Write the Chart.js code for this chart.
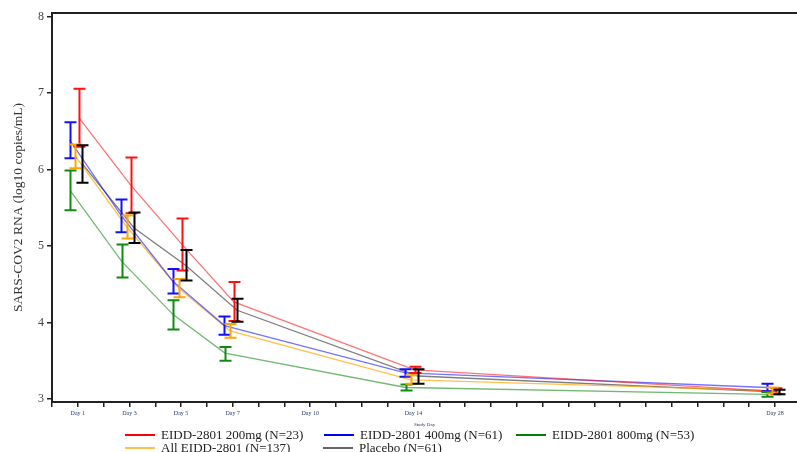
<!DOCTYPE html>
<html>
<head>
<meta charset="utf-8">
<script src="https://cdn.jsdelivr.net/npm/chart.js@4"></script>
<style>
  body { margin: 0; background: #fff; }
  #wrap { position: relative; width: 797px; height: 452px; }
  #legend { position: absolute; left: 0; top: 0; width: 797px; height: 452px; pointer-events: none;
            font-family: "Liberation Serif", serif; font-size: 13px; color: #222; }
  .item { position: absolute; white-space: nowrap; line-height: 13px; }
  .item span.ln { position: absolute; top: 6px; height: 2px; width: 30px; }
  .item span.tx { position: absolute; left: 36px; top: 0; }
</style>
</head>
<body>
<div id="wrap">
  <canvas id="chart" width="797" height="452"></canvas>
  <div id="legend"></div>
</div>
<script>
// days measured (x) and the labelled ticks
const days = [1, 3, 5, 7, 14, 28];
const labelledDays = [1, 3, 5, 7, 10, 14, 28];
const yTicks = [3, 4, 5, 6, 7, 8];

const seriesNames = [
    'EIDD-2801 200mg (N=23)',
    'EIDD-2801 400mg (N=61)',
    'EIDD-2801 800mg (N=53)',
    'All EIDD-2801 (N=137)',
    'Placebo (N=61)'
];

// mean log10 copies/mL and error bar limits
const mean200 = [6.68, 5.80, 5.02, 4.27, 3.38, 3.10];
const low200  = [6.30, 5.43, 4.68, 4.02, 3.34, 3.06];
const high200 = [7.06, 6.16, 5.36, 4.53, 3.42, 3.14];

const mean400 = [6.39, 5.40, 4.54, 3.96, 3.34, 3.15];
const low400  = [6.15, 5.18, 4.38, 3.84, 3.29, 3.10];
const high400 = [6.62, 5.61, 4.70, 4.08, 3.39, 3.20];

const mean800 = [5.73, 4.80, 4.10, 3.60, 3.15, 3.06];
const low800  = [5.47, 4.59, 3.91, 3.50, 3.11, 3.03];
const high800 = [5.99, 5.02, 4.29, 3.68, 3.19, 3.09];

const meanAll = [6.18, 5.25, 4.45, 3.89, 3.25, 3.11];
const lowAll  = [6.02, 5.10, 4.33, 3.80, 3.20, 3.07];
const highAll = [6.33, 5.40, 4.57, 3.98, 3.31, 3.15];

const meanPbo = [6.08, 5.24, 4.75, 4.16, 3.30, 3.09];
const lowPbo  = [5.83, 5.04, 4.55, 4.01, 3.20, 3.06];
const highPbo = [6.32, 5.44, 4.95, 4.31, 3.39, 3.12];

// estilo
const lineColors = ['rgba(255,0,0,0.55)', 'rgba(0,0,255,0.55)', 'rgba(0,128,0,0.55)', 'rgba(255,165,0,0.7)', 'rgba(40,40,40,0.6)'];
const barColors = ['#ff1010', '#1010ff', '#108a10', '#ffa500', '#000000'];
const legendColors = ['#ff0000', '#0000ff', '#008000', '#ffc050', '#666666'];
const dodge = [0.04, -0.32, -0.30, -0.10, 0.17];   // horizontal shift so bars don't overlap

const means = [mean200, mean400, mean800, meanAll, meanPbo];
const lows = [low200, low400, low800, lowAll, lowPbo];
const highs = [high200, high400, high800, highAll, highPbo];

const datasets = means.map((m, i) => ({
    label: seriesNames[i],
    data: days.map((d, j) => ({ x: d + dodge[i], y: m[j] })),
    borderColor: lineColors[i],
    backgroundColor: lineColors[i],
    borderWidth: 1.3,
    pointRadius: 0,
    tension: 0
}));

// error bars + top frame line
const errorBars = {
    id: 'errorBars',
    afterDatasetsDraw(chart) {
        const { ctx, scales: { x, y } } = chart;
        ctx.save();
        chart.data.datasets.forEach((ds, i) => {
            ctx.strokeStyle = barColors[i];
            ctx.lineWidth = 2;
            ds.data.forEach((p, j) => {
                const px = Math.round(x.getPixelForValue(p.x)) + 0.5;
                const y1 = y.getPixelForValue(lows[i][j]);
                const y2 = y.getPixelForValue(highs[i][j]);
                ctx.beginPath();
                ctx.moveTo(px, y1); ctx.lineTo(px, y2);
                ctx.moveTo(px - 6, y1); ctx.lineTo(px + 6, y1);
                ctx.moveTo(px - 6, y2); ctx.lineTo(px + 6, y2);
                ctx.stroke();
            });
        });
        ctx.restore();
    },
    afterDraw(chart) {
        const { ctx, chartArea } = chart;
        ctx.save();
        ctx.strokeStyle = '#222';
        ctx.lineWidth = 2;
        ctx.beginPath();
        ctx.moveTo(chartArea.left, chartArea.top);
        ctx.lineTo(chartArea.right, chartArea.top);
        ctx.stroke();
        ctx.restore();
    }
};

const ctx = document.getElementById('chart').getContext('2d');
new Chart(ctx, {
    type: 'line',
    data: { datasets: datasets },
    options: {
        responsive: false,
        animation: false,
        layout: { padding: { top: 13, right: 0, bottom: 24, left: 0 } },
        plugins: { legend: { display: false }, tooltip: { enabled: false } },
        scales: {
            x: {
                type: 'linear',
                min: 0,
                max: 28.85,
                afterBuildTicks: s => { s.ticks = Array.from({ length: 29 }, (_, k) => ({ value: k })); },
                afterFit: s => { s.height = 26; },
                grid: { drawOnChartArea: false, tickLength: 5, color: '#222', lineWidth: 1.5 },
                border: { color: '#222', width: 2 },
                ticks: {
                    autoSkip: false, maxRotation: 0, padding: 3,
                    font: { family: 'Liberation Serif', size: 6 }, color: '#2c3c70',
                    callback: v => labelledDays.includes(v) ? 'Day ' + v : ''
                },
                title: { display: true, text: 'Study Day', padding: 0,
                         font: { family: 'Liberation Serif', size: 5 }, color: '#2c3c70' }
            },
            y: {
                min: 2.96,
                max: 8.05,
                afterBuildTicks: s => { s.ticks = yTicks.map(v => ({ value: v })); },
                afterFit: s => { s.width = 52; },
                grid: { drawOnChartArea: false, tickLength: 5, color: '#222', lineWidth: 1.5 },
                border: { color: '#222', width: 2 },
                ticks: { padding: 3, font: { family: 'Liberation Serif', size: 12 }, color: '#444' },
                title: { display: true, text: 'SARS-COV2 RNA (log10 copies/mL)', padding: { top: 10, bottom: 0 },
                         font: { family: 'Liberation Serif', size: 13.5 }, color: '#333' }
            }
        }
    },
    plugins: [errorBars]
});

// legenda em HTML (3 colunas, 2 linhas)
const legendPos = [[125, 428], [324, 428], [516, 428], [125, 441], [323, 441]];
const legend = document.getElementById('legend');
seriesNames.forEach((name, i) => {
    const it = document.createElement('div');
    it.className = 'item';
    it.style.left = legendPos[i][0] + 'px';
    it.style.top = legendPos[i][1] + 'px';
    it.innerHTML = `<span class="ln" style="background:${legendColors[i]}"></span><span class="tx">${name}</span>`;
    legend.appendChild(it);
});
</script>
</body>
</html>
